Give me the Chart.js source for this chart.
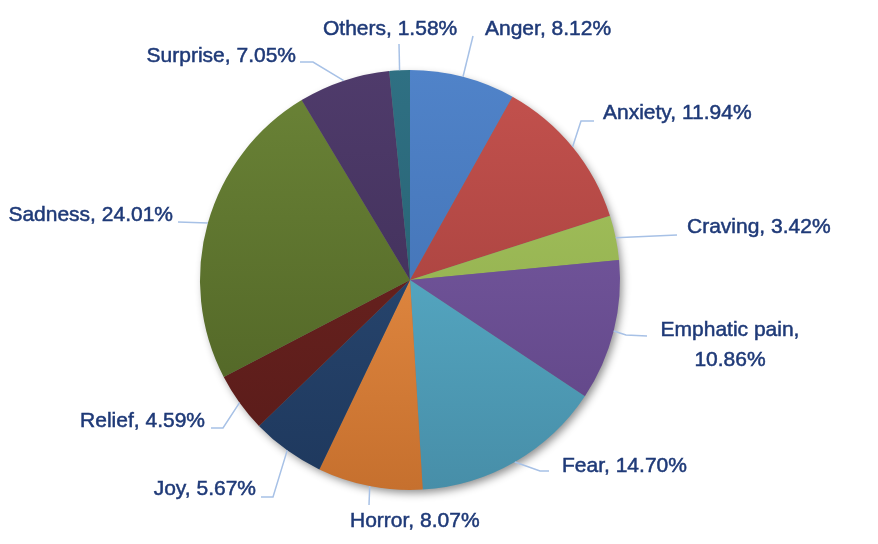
<!DOCTYPE html>
<html>
<head>
<meta charset="utf-8">
<script src="https://cdn.jsdelivr.net/npm/chart.js@4/dist/chart.umd.min.js"></script>
<style>
  html, body { margin: 0; padding: 0; background: #fff; }
  #wrap { width: 878px; height: 544px; }
</style>
</head>
<body>
<div id="wrap"><canvas id="emotions-chart" width="878" height="544"></canvas></div>
<script>
// Emotion shares (percent), clockwise from 12 o'clock
const categories = ['Anger', 'Anxiety', 'Craving', 'Emphatic pain', 'Fear', 'Horror',
  'Joy', 'Relief', 'Sadness', 'Surprise', 'Others'];
const shares = [8.12, 11.94, 3.42, 10.86, 14.70, 8.07, 5.67, 4.59, 24.01, 7.05, 1.58];

// slice colours: lighter at the top of the pie, darker at the bottom
const topColors = ['#5083c9', '#c4524e', '#a9c75f', '#7d5fa8', '#5fbad5', '#f4994e',
  '#2e4f7a', '#722622', '#6b8437', '#4f3b6b', '#2f7083'];
const bottomColors = ['#3c6bab', '#9a3a37', '#87a448', '#5d4383', '#478ea8', '#c6702e',
  '#1e385d', '#581b19', '#4c5f23', '#3a2b51', '#245b6b'];

// label layout: [x, baseline y, align], leader bend/end points
const labelPos = [
  [485, 35, 'left'], [603, 119, 'left'], [687, 233, 'left'], [730, 336, 'center'],
  [562, 472, 'left'], [350, 527, 'left'], [256, 495, 'right'], [205, 427, 'right'],
  [173, 221, 'right'], [296, 62, 'right'], [323, 35, 'left']
];
const leaderPts = [
  [[473, 36]],
  [[581, 121], [594, 121]],
  [[677, 235]],
  [[626, 335], [647, 336]],
  [[540, 471], [549, 471]],
  [[369, 505]],
  [[273, 497], [261, 497]],
  [[223, 428], [211, 428]],
  [[178, 222]],
  [[313, 62], [300, 62]],
  [[399, 44]]
];

const pieShadow = {
  id: 'pieShadow',
  beforeDatasetsDraw(chart) {
    const arc = chart.getDatasetMeta(0).data[0];
    if (!arc) return;
    const ctx = chart.ctx;
    ctx.save();
    ctx.shadowColor = 'rgba(0,0,0,0.45)';
    ctx.shadowBlur = 9;
    ctx.shadowOffsetX = 3;
    ctx.shadowOffsetY = 4;
    ctx.fillStyle = '#777';
    ctx.beginPath();
    ctx.arc(arc.x, arc.y, arc.outerRadius - 1, 0, Math.PI * 2);
    ctx.fill();
    ctx.restore();
  }
};

const leaderLabels = {
  id: 'leaderLabels',
  afterDatasetsDraw(chart) {
    const ctx = chart.ctx;
    const meta = chart.getDatasetMeta(0);
    meta.data.forEach((arc, i) => {
      const mid = (arc.startAngle + arc.endAngle) / 2;
      const sx = arc.x + Math.cos(mid) * arc.outerRadius;
      const sy = arc.y + Math.sin(mid) * arc.outerRadius;
      ctx.save();
      ctx.strokeStyle = '#a7c1e6';
      ctx.lineWidth = 1.5;
      ctx.beginPath();
      ctx.moveTo(sx, sy);
      leaderPts[i].forEach(p => ctx.lineTo(p[0], p[1]));
      ctx.stroke();

      const [lx, ly, align] = labelPos[i];
      ctx.fillStyle = '#1f3a78';
      ctx.strokeStyle = '#1f3a78';
      ctx.lineWidth = 0.5;
      ctx.font = '21px "Liberation Sans", Arial, sans-serif';
      ctx.textAlign = align;
      ctx.textBaseline = 'alphabetic';
      const pct = shares[i].toFixed(2) + '%';
      const lines = categories[i] === 'Emphatic pain'
        ? [categories[i] + ',', pct]
        : [categories[i] + ', ' + pct];
      lines.forEach((t, k) => {
        ctx.fillText(t, lx, ly + k * 30);
        ctx.strokeText(t, lx, ly + k * 30);
      });
      ctx.restore();
    });
  }
};

function sliceFill(context) {
  const chart = context.chart;
  const i = context.dataIndex;
  const area = chart.chartArea;
  if (!area) return topColors[i];
  const g = chart.ctx.createLinearGradient(0, area.top, 0, area.bottom);
  g.addColorStop(0, topColors[i]);
  g.addColorStop(1, bottomColors[i]);
  return g;
}

new Chart(document.getElementById('emotions-chart'), {
  type: 'pie',
  data: {
    labels: categories,
    datasets: [{
      data: shares,
      backgroundColor: sliceFill,
      borderWidth: 0
    }]
  },
  options: {
    responsive: false,
    animation: false,
    layout: { padding: { left: 200, right: 258, top: 70, bottom: 54 } },
    plugins: {
      legend: { display: false },
      tooltip: { enabled: false }
    }
  },
  plugins: [pieShadow, leaderLabels]
});
</script>
</body>
</html>
